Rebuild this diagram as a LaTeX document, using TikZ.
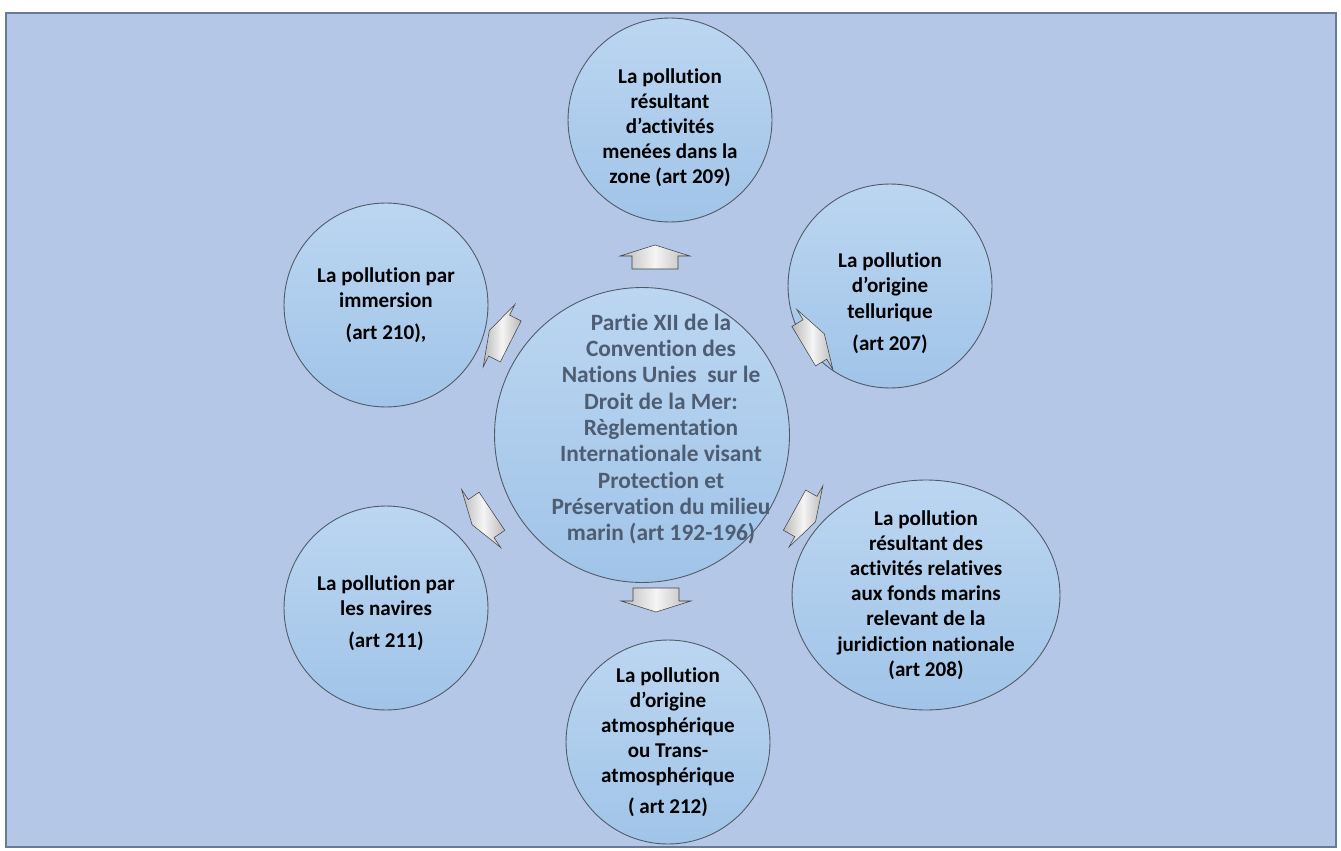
\documentclass[tikz,border=0pt]{standalone}
\usepackage{fontspec}
\setmainfont{Carlito}[Ligatures=NoCommon]
\usepackage{tikz}
\usepackage{xcolor}
\usetikzlibrary{arrows,calc,positioning,shapes.geometric}
\definecolor{framefill}{HTML}{B4C7E7}
\definecolor{frameline}{HTML}{687A96}
\definecolor{bubbletop}{HTML}{BCD6F1}
\definecolor{bubblebot}{HTML}{A0C4E8}
\definecolor{bubbleline}{HTML}{505A66}
\definecolor{centertext}{HTML}{4E5D71}
\tikzset{%
  frame/.style={draw=frameline,fill=framefill,line width=1.2pt},
  bubble/.style={circle,draw=bubbleline,line width=0.5pt,top color=bubbletop,bottom color=bubblebot,
    align=center,inner sep=-0.4cm,minimum size=4.08cm,font=\bfseries\fontsize{12}{14.3}\selectfont},
  hub/.style={bubble,minimum size=5.9cm},
  hubtext/.style={align=center,inner sep=0pt,text=centertext,font=\bfseries\fontsize{13.3}{15}\selectfont},
  oval/.style={bubble,ellipse,minimum width=5.36cm,minimum height=4.6cm},
  arrowfill/.style={draw=gray!50!black,line width=0.3pt,left color=gray!55,right color=gray!55,middle color=gray!8},
  blockarrow/.pic={\path[arrowfill] (-12,-23) -- (1,-23) -- (1,-35) -- (12,0) -- (1,35) -- (1,23) -- (-12,23) -- cycle;},
}

\begin{document}
\begin{tikzpicture}[x=0.02cm,y=-0.02cm]
      \fill[white] (0,0) rectangle (1341,851);
      \useasboundingbox (0,0) rectangle (1341,851);
      \draw[frame] (6,13) rectangle (1336,847);

      \node[hub] (partie) at (642,435) {};
      \node[hubtext] (partieText) at ($(partie.center)+(19,-6)$) {Partie XII de la\\Convention des\\Nations Unies\ \ sur le\\Droit de la Mer:\\R\`eglementation\\Internationale visant\\Protection et\\Pr\'eservation du milieu\\marin (art 192-196)};
      \node[bubble] (zone) at (670,120) {\rule{0pt}{17pt}La pollution\\r\'esultant\\d’activit\'es\\men\'ees dans la\\zone (art 209)};
      \node[bubble] (tellur) at (890,286) {\rule{0pt}{28pt}La pollution\\d’origine\\tellurique\\[4pt](art 207)};
      \node[oval] (fonds) at (926,595) {La pollution\\r\'esultant des\\activit\'es relatives\\aux fonds marins\\relevant de la\\juridiction nationale\\(art 208)};
      \node[bubble] (atmos) at (668,742) {La pollution\\d’origine\\atmosph\'erique\\ou Trans-\\atmosph\'erique\\[3pt]( art 212)};
      \node[bubble] (navires) at (386,608) {\rule{0pt}{14pt}La pollution par\\les navires\\[4pt](art 211)};
      \node[bubble] (immersion) at (386,305) {La pollution par\\immersion\\[4pt](art 210),};

      \pic[rotate=90] (toZone) at (655,257) {blockarrow};
      \pic[rotate=31] (toTellur) at (814,340) {blockarrow};
      \pic[rotate=-29] (toFonds) at (805,516) {blockarrow};
      \pic[rotate=-90] (toAtmos) at (656,600) {blockarrow};
      \pic[rotate=214] (toNavires) at (482,518) {blockarrow};
      \pic[rotate=153] (toImmersion) at (500,336) {blockarrow};
    \end{tikzpicture}
\end{document}
